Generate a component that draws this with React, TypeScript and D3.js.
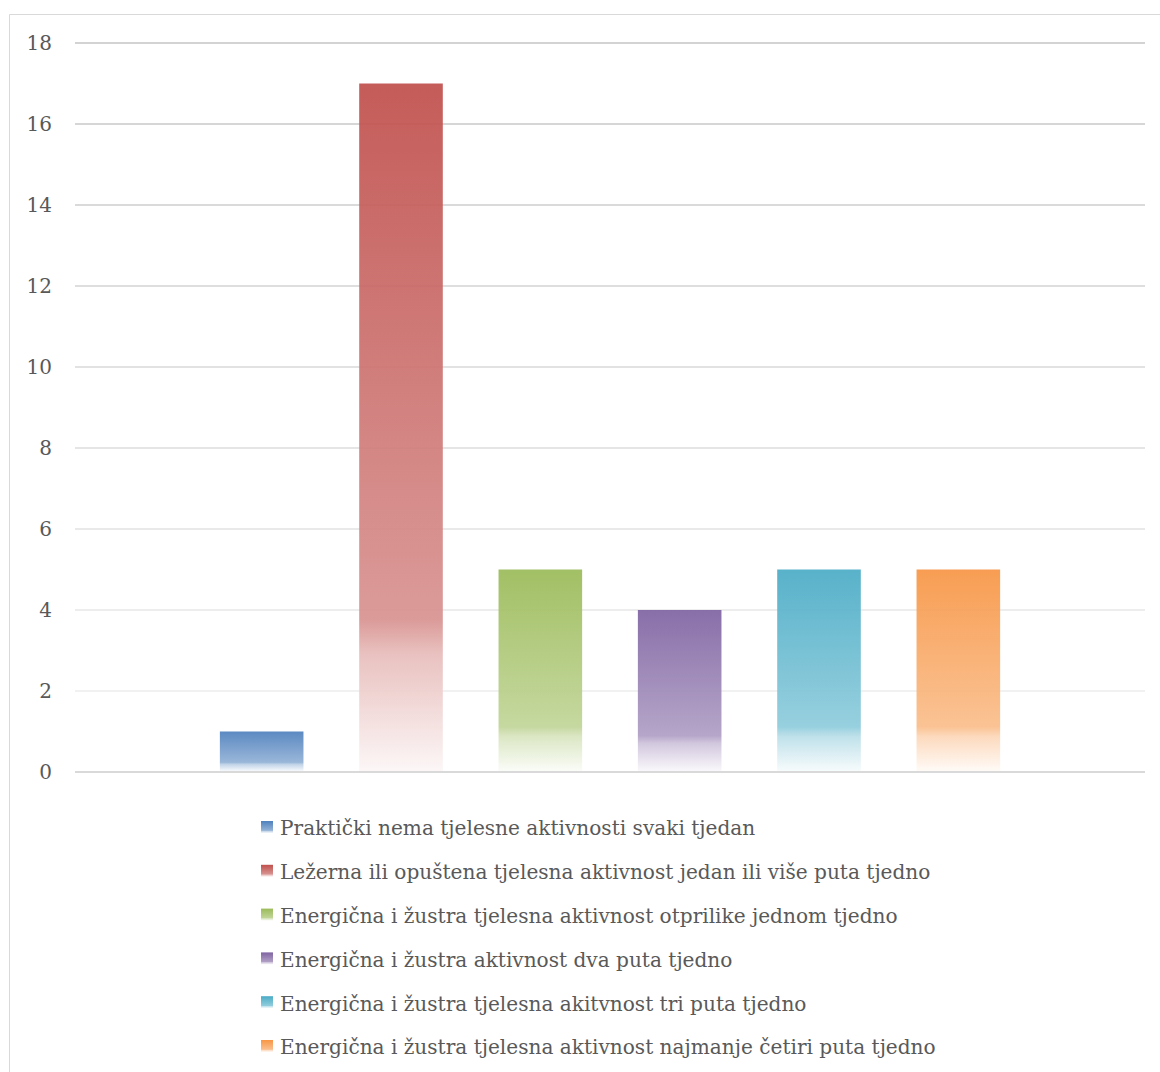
import React from "react";
import * as d3 from "d3";

const seriesNames = [
  "Praktički nema tjelesne aktivnosti svaki tjedan",
  "Ležerna ili opuštena tjelesna aktivnost jedan ili više puta tjedno",
  "Energična i žustra tjelesna aktivnost otprilike jednom tjedno",
  "Energična i žustra aktivnost dva puta tjedno",
  "Energična i žustra tjelesna akitvnost tri puta tjedno",
  "Energična i žustra tjelesna aktivnost najmanje četiri puta tjedno",
];
const seriesValues = [1, 17, 5, 4, 5, 5];
const seriesColors = ["#4F81BD", "#C0504D", "#9BBB59", "#8064A2", "#4BACC6", "#F79646"];
const yTicks = [0, 2, 4, 6, 8, 10, 12, 14, 16, 18];

const W = 1160;
const H = 1072;
const plotLeft = 75;
const plotRight = 1145;
const plotTop = 43;
const plotBottom = 772;
const FONT = "'DejaVu Serif', serif";

export default function App() {
  const y = d3.scaleLinear().domain([0, 18]).range([plotBottom, plotTop]);
  const center = (plotLeft + plotRight) / 2;
  const x = d3
    .scaleBand<string>()
    .domain(seriesNames)
    .range([center - 418, center + 418])
    .paddingInner(0.4)
    .paddingOuter(0.2);
  const mix = (c: string, t: number) => d3.interpolateRgb(c, "#ffffff")(t);
  const gridColor = d3.scaleLinear<string>().domain([2, 18]).range(["#ececec", "#c4c4c4"]);

  const legendTop = 828;
  const legendStep = 43.8;

  return (
    <svg
      width={W}
      height={H}
      style={{ position: "absolute", left: 0, top: 0, background: "#fff" }}
      fontFamily={FONT}
    >
      <defs>
        {seriesColors.map((c, i) => (
          <linearGradient key={i} id={`g${i}`} x1="0" y1="0" x2="0" y2="1">
            <stop offset="0" stopColor={c} />
            <stop offset="0.78" stopColor={mix(c, 0.38)} />
            <stop offset="0.83" stopColor={mix(c, 0.62)} />
            <stop offset="1" stopColor={mix(c, 0.95)} />
          </linearGradient>
        ))}
      </defs>
      <rect x={0} y={0} width={W} height={H} fill="#fff" />
      <line x1={9.5} y1={14.5} x2={W} y2={14.5} stroke="#d9d9d9" />
      <line x1={9.5} y1={14.5} x2={9.5} y2={H} stroke="#d9d9d9" />

      {yTicks.map((t) => (
        <g key={t}>
          <line
            x1={plotLeft}
            x2={plotRight}
            y1={y(t)}
            y2={y(t)}
            stroke={t === 0 ? "#d9d9d9" : gridColor(t)}
            strokeWidth={t === 0 ? 2 : 1.6}
          />
          <text
            x={52}
            y={y(t)}
            dy="0.36em"
            textAnchor="end"
            fontSize={20}
            fill="#595959"
          >
            {t}
          </text>
        </g>
      ))}

      {seriesNames.map((s, i) => (
        <rect
          key={s}
          x={x(s)}
          y={y(seriesValues[i])}
          width={x.bandwidth()}
          height={plotBottom - 1 - y(seriesValues[i])}
          fill={`url(#g${i})`}
          fillOpacity={0.93}
        />
      ))}

      {seriesNames.map((s, i) => (
        <g key={s} transform={`translate(0, ${legendTop + i * legendStep})`}>
          <rect x={261} y={-7} width={12} height={12} fill={`url(#g${i})`} />
          <text x={280} y={0} dy="0.37em" fontSize={20.1} fill="#595959">
            {s}
          </text>
        </g>
      ))}
    </svg>
  );
}
